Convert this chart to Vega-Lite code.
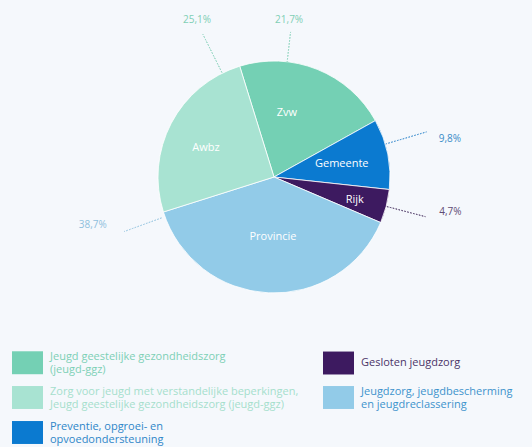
{
  "$schema": "https://vega.github.io/schema/vega-lite/v6.json",
  "width": 516,
  "height": 354,
  "autosize": {"type": "none"},
  "padding": {"left": 16, "top": 0, "right": 0, "bottom": 93},
  "background": "#f5f8fc",
  "config": {"view": {"stroke": null}, "font": "Open Sans"},
  "data": {
    "values": [
      {"ord": 1, "slice": "Zvw", "legend": "Jeugd geestelijke gezondheidszorg|(jeugd-ggz)", "value": 21.7, "pct": "21,7%"},
      {"ord": 2, "slice": "Gemeente", "legend": "Preventie, opgroei- en|opvoedondersteuning", "value": 9.8, "pct": "9,8%"},
      {"ord": 3, "slice": "Rijk", "legend": "Gesloten jeugdzorg", "value": 4.7, "pct": "4,7%"},
      {"ord": 4, "slice": "Provincie", "legend": "Jeugdzorg, jeugdbescherming|en jeugdreclassering", "value": 38.7, "pct": "38,7%"},
      {"ord": 5, "slice": "Awbz", "legend": "Zorg voor jeugd met verstandelijke beperkingen,|Jeugd geestelijke gezondheidszorg (jeugd-ggz)", "value": 25.1, "pct": "25,1%"}
    ]
  },
  "transform": [
    {"stack": "value", "groupby": [], "sort": [{"field": "ord", "order": "ascending"}], "as": ["v0", "v1"]}
  ],
  "encoding": {
    "theta": {"field": "v0", "type": "quantitative", "stack": null, "scale": {"domain": [0, 100], "range": [-0.3002, 5.983]}}
  },
  "layer": [
    {
      "mark": {"type": "arc", "outerRadius": 116, "stroke": "#ffffff", "strokeWidth": 0.8},
      "encoding": {
        "theta2": {"field": "v1"},
        "color": {
          "field": "legend",
          "type": "nominal",
          "scale": {
            "domain": [
              "Jeugd geestelijke gezondheidszorg|(jeugd-ggz)",
              "Zorg voor jeugd met verstandelijke beperkingen,|Jeugd geestelijke gezondheidszorg (jeugd-ggz)",
              "Preventie, opgroei- en|opvoedondersteuning",
              "Gesloten jeugdzorg",
              "Jeugdzorg, jeugdbescherming|en jeugdreclassering"
            ],
            "range": ["#74d0b4", "#a8e3d2", "#0b7ad0", "#3d1a60", "#92cbe8"]
          },
          "legend": {
            "title": null,
            "orient": "none",
            "legendX": -4,
            "legendY": 347,
            "columns": 2,
            "columnPadding": 24,
            "rowPadding": 7,
            "symbolType": "M-1,-0.74H1V0.74H-1Z",
            "symbolSize": 961,
            "symbolStrokeWidth": 0,
            "labelFont": "Open Sans",
            "labelFontSize": 11,
            "labelLimit": 400,
            "labelOffset": 7,
            "labelLineHeight": 14,
            "labelExpr": "split(datum.label, '|')",
            "labelBaseline": {"expr": "indexof(datum.value, '|') >= 0 ? 'line-bottom' : 'middle'"},
            "labelColor": {"expr": "datum.value === 'Jeugd geestelijke gezondheidszorg|(jeugd-ggz)' ? '#7dd0b6' : datum.value === 'Preventie, opgroei- en|opvoedondersteuning' ? '#2f86c8' : datum.value === 'Gesloten jeugdzorg' ? '#4b3568' : datum.value === 'Jeugdzorg, jeugdbescherming|en jeugdreclassering' ? '#3d93cc' : '#a5dfcc'"}
          }
        }
      }
    },
    {
      "transform": [{"filter": "datum.slice === 'Zvw'"}],
      "layer": [
        {"mark": {"type": "arc", "innerRadius": 116, "outerRadius": 146, "thetaOffset": 0.414, "theta2Offset": 0.414, "filled": false, "color": "#9ad9c6", "strokeDash": [1.5, 1.5], "strokeDashOffset": 0.75, "strokeWidth": 1}, "encoding": {"theta2": {"field": "v0"}}},
        {"mark": {"type": "text", "radius": 65, "thetaOffset": 0.501, "color": "#ffffff", "fontSize": 11}, "encoding": {"text": {"field": "slice"}}},
        {"mark": {"type": "text", "radius": 158, "thetaOffset": 0.396, "color": "#7fcfb5", "fontSize": 10}, "encoding": {"text": {"field": "pct"}}}
      ]
    },
    {
      "transform": [{"filter": "datum.slice === 'Gemeente'"}],
      "layer": [
        {"mark": {"type": "arc", "innerRadius": 117, "outerRadius": 159, "thetaOffset": 0.22, "theta2Offset": 0.22, "filled": false, "color": "#5b9fd6", "strokeDash": [1.5, 1.5], "strokeDashOffset": 0.75, "strokeWidth": 1}, "encoding": {"theta2": {"field": "v0"}}},
        {"mark": {"type": "text", "radius": 69, "thetaOffset": 0.316, "color": "#ffffff", "fontSize": 11}, "encoding": {"text": {"field": "slice"}}},
        {"mark": {"type": "text", "radius": 169, "thetaOffset": 0.281, "align": "left", "color": "#3a8cc8", "fontSize": 10}, "encoding": {"text": {"field": "pct"}}}
      ]
    },
    {
      "transform": [{"filter": "datum.slice === 'Rijk'"}],
      "layer": [
        {"mark": {"type": "arc", "innerRadius": 116, "outerRadius": 156.5, "thetaOffset": 0.148, "theta2Offset": 0.148, "filled": false, "color": "#6b5a80", "strokeDash": [1.5, 1.5], "strokeDashOffset": 0.75, "strokeWidth": 1}, "encoding": {"theta2": {"field": "v0"}}},
        {"mark": {"type": "text", "radius": 84, "thetaOffset": 0.171, "color": "#ffffff", "fontSize": 11}, "encoding": {"text": {"field": "slice"}}},
        {"mark": {"type": "text", "radius": 169, "thetaOffset": 0.101, "align": "left", "color": "#5e4b74", "fontSize": 10}, "encoding": {"text": {"field": "pct"}}}
      ]
    },
    {
      "transform": [{"filter": "datum.slice === 'Provincie'"}],
      "layer": [
        {"mark": {"type": "arc", "innerRadius": 119, "outerRadius": 159.5, "thetaOffset": 2.389, "theta2Offset": 2.389, "filled": false, "color": "#a8cfe6", "strokeDash": [1.5, 1.5], "strokeDashOffset": 0.75, "strokeWidth": 1}, "encoding": {"theta2": {"field": "v0"}}},
        {"mark": {"type": "text", "radius": 60, "thetaOffset": 1.185, "color": "#ffffff", "fontSize": 11}, "encoding": {"text": {"field": "slice"}}},
        {"mark": {"type": "text", "radius": 174, "thetaOffset": 2.457, "align": "right", "color": "#8fc0dc", "fontSize": 10}, "encoding": {"text": {"field": "pct"}}}
      ]
    },
    {
      "transform": [{"filter": "datum.slice === 'Awbz'"}],
      "layer": [
        {"mark": {"type": "arc", "innerRadius": 116, "outerRadius": 159.5, "thetaOffset": 1.415, "theta2Offset": 1.415, "filled": false, "color": "#9ad9c6", "strokeDash": [1.5, 1.5], "strokeDashOffset": 0.75, "strokeWidth": 1}, "encoding": {"theta2": {"field": "v0"}}},
        {"mark": {"type": "text", "radius": 74, "thetaOffset": 0.709, "color": "#ffffff", "fontSize": 11}, "encoding": {"text": {"field": "slice"}}},
        {"mark": {"type": "text", "radius": 175, "thetaOffset": 1.422, "color": "#7fcfb5", "fontSize": 10}, "encoding": {"text": {"field": "pct"}}}
      ]
    }
  ]
}
